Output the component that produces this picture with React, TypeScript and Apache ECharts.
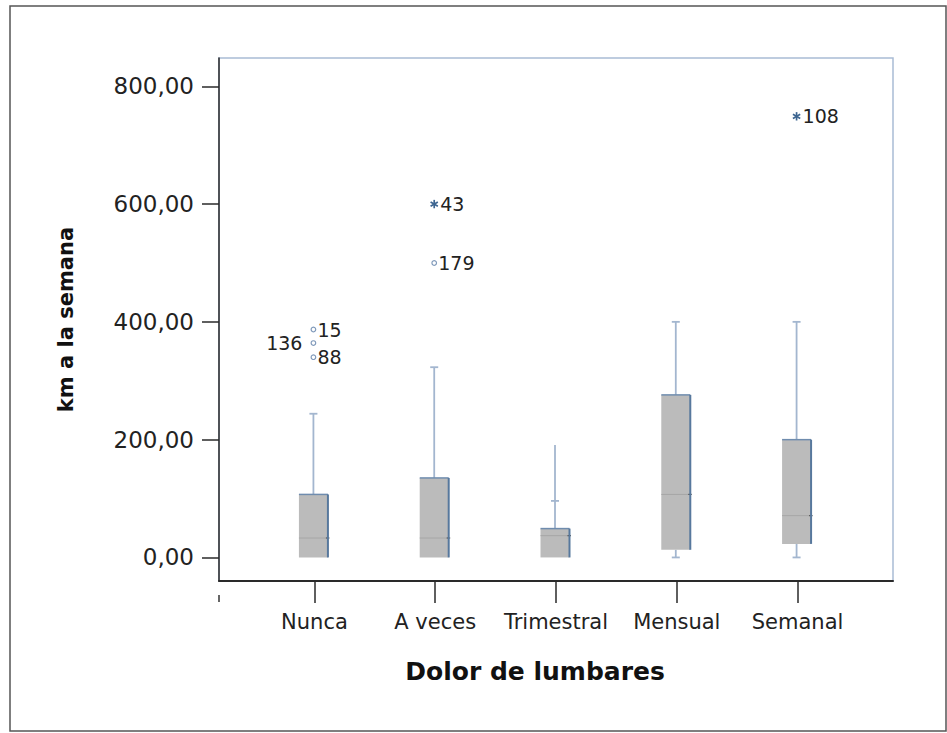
import React, { useEffect, useRef } from "react";
import * as echarts from "echarts";

const categories = ["Nunca", "A veces", "Trimestral", "Mensual", "Semanal"];
const whiskerLow = [0, 0, 0, 0, 0];
const q1 = [0, 0, 0, 13, 23];
const median = [33, 33, 37, 107, 71];
const q3 = [107, 135, 49, 276, 200];
const whiskerHigh = [244, 323, 191, 400, 400];
const whiskerCap = [244, 323, 96, 400, 400];

const yTicks = [0, 200, 400, 600, 800];

const mildCats = ["Nunca", "Nunca", "Nunca", "A veces"];
const mildValues = [387, 364, 340, 500];
const mildIds = ["15", "136", "88", "179"];
const mildSides = ["right", "left", "right", "right"];

const extremeCats = ["A veces", "Semanal"];
const extremeValues = [600, 749];
const extremeIds = ["43", "108"];

const FONT = "DejaVu Sans";

export default function App() {
  const ref = useRef<HTMLDivElement>(null);
  useEffect(() => {
    if (!ref.current) return;
    const chart = echarts.init(ref.current, undefined, { renderer: "svg" });

    const boxData = categories.map((c, i) => [
      i + 1,
      whiskerLow[i],
      q1[i],
      median[i],
      q3[i],
      whiskerHigh[i],
      whiskerCap[i],
    ]);

    const outlierData: any[] = [];
    mildCats.forEach((c, i) => {
      outlierData.push([categories.indexOf(c) + 1, mildValues[i], mildIds[i], 0, mildSides[i]]);
    });
    extremeCats.forEach((c, i) => {
      outlierData.push([categories.indexOf(c) + 1, extremeValues[i], extremeIds[i], 1, "right"]);
    });

    const fmt = (v: number) => v.toFixed(2).replace(".", ",");

    chart.setOption({
      animation: false,
      backgroundColor: "#ffffff",
      grid: {
        left: 219,
        top: 58,
        right: 54,
        bottom: 152,
        show: true,
        borderColor: "#a9bcd5",
        borderWidth: 1.5,
        backgroundColor: "transparent",
      },
      xAxis: {
        type: "value",
        min: 0.21,
        max: 5.79,
        splitLine: { show: false },
        axisLine: { show: true, onZero: false, lineStyle: { color: "#2a2a2a", width: 2 } },
        axisTick: {
          show: true,
          length: 22,
          customValues: [1, 2, 3, 4, 5],
          lineStyle: { color: "#2a2a2a", width: 1.5 },
        },
        axisLabel: {
          customValues: [1, 2, 3, 4, 5],
          formatter: (v: number) => categories[Math.round(v) - 1] ?? "",
          margin: 30,
          color: "#222",
          fontFamily: FONT,
          fontSize: 21,
        },
        name: "Dolor de lumbares",
        nameLocation: "middle",
        nameGap: 78,
        nameTextStyle: {
          fontFamily: FONT,
          fontWeight: "bold",
          fontSize: 25,
          color: "#111",
          padding: [0, 42, 0, 0],
        },
      },
      yAxis: {
        type: "value",
        min: -40,
        max: 848,
        splitLine: { show: false },
        axisLine: { show: true, onZero: false, lineStyle: { color: "#2a2a2a", width: 1.5 } },
        axisTick: {
          show: true,
          length: 17,
          customValues: yTicks,
          lineStyle: { color: "#2a2a2a", width: 1.5 },
        },
        axisLabel: {
          customValues: yTicks,
          formatter: (v: number) => fmt(v),
          margin: 25,
          color: "#222",
          fontFamily: FONT,
          fontSize: 23,
        },
        name: "km a la semana",
        nameLocation: "middle",
        nameGap: 143,
        nameTextStyle: { fontFamily: FONT, fontWeight: "bold", fontSize: 21, color: "#111" },
      },
      graphic: [
        {
          type: "rect",
          shape: { x: 10, y: 6, width: 936, height: 725 },
          style: { fill: "none", stroke: "#555", lineWidth: 1.5 },
          silent: true,
        },
        {
          type: "line",
          shape: { x1: 219, y1: 595, x2: 219, y2: 602 },
          style: { stroke: "#333", lineWidth: 1.5 },
          silent: true,
        },
      ],
      series: [
        {
          type: "custom",
          data: boxData,
          renderItem: (params: any, api: any) => {
            const x = api.value(0);
            const pLow = api.coord([x, api.value(1)]);
            const pQ1 = api.coord([x, api.value(2)]);
            const pMed = api.coord([x, api.value(3)]);
            const pQ3 = api.coord([x, api.value(4)]);
            const pHigh = api.coord([x, api.value(5)]);
            const pCap = api.coord([x, api.value(6)]);
            const cx = pQ1[0] - 1;
            const hw = 14.5;
            const whisk = { stroke: "#a3b6cf", lineWidth: 1.8 };
            const children: any[] = [];
            children.push({
              type: "line",
              shape: { x1: cx, y1: pQ3[1], x2: cx, y2: pHigh[1] },
              style: whisk,
            });
            children.push({
              type: "line",
              shape: { x1: cx - 4, y1: pCap[1], x2: cx + 4, y2: pCap[1] },
              style: whisk,
            });
            if (api.value(2) > api.value(1)) {
              children.push({
                type: "line",
                shape: { x1: cx, y1: pQ1[1], x2: cx, y2: pLow[1] },
                style: whisk,
              });
              children.push({
                type: "line",
                shape: { x1: cx - 4, y1: pLow[1], x2: cx + 4, y2: pLow[1] },
                style: whisk,
              });
            }
            children.push({
              type: "rect",
              shape: { x: cx - hw, y: pQ3[1], width: hw * 2, height: pQ1[1] - pQ3[1] },
              style: { fill: "#bbbbbb" },
            });
            children.push({
              type: "line",
              shape: { x1: cx - hw, y1: pMed[1], x2: cx + hw, y2: pMed[1] },
              style: { stroke: "#a6a6a6", lineWidth: 1 },
            });
            children.push({
              type: "line",
              shape: { x1: cx + hw - 2, y1: pMed[1], x2: cx + hw + 1.5, y2: pMed[1] },
              style: { stroke: "#555", lineWidth: 1.2 },
            });
            children.push({
              type: "line",
              shape: { x1: cx - hw, y1: pQ3[1], x2: cx + hw, y2: pQ3[1] },
              style: { stroke: "#6f8cae", lineWidth: 1.5 },
            });
            children.push({
              type: "line",
              shape: { x1: cx + hw, y1: pQ3[1], x2: cx + hw, y2: pQ1[1] },
              style: { stroke: "#57789d", lineWidth: 2 },
            });
            return { type: "group", children };
          },
        },
        {
          type: "custom",
          data: outlierData,
          renderItem: (params: any, api: any) => {
            const d = outlierData[params.dataIndex];
            const p = api.coord([d[0], d[1]]);
            p[0] -= 1;
            const children: any[] = [];
            if (d[3] === 0) {
              children.push({
                type: "circle",
                shape: { cx: p[0], cy: p[1], r: 2.3 },
                style: { fill: "#fff", stroke: "#7f99ba", lineWidth: 1.2 },
              });
            } else {
              const r = 4.2;
              [90, 30, 150].forEach((a) => {
                const rad = (a * Math.PI) / 180;
                const dx = Math.cos(rad) * r;
                const dy = Math.sin(rad) * r;
                children.push({
                  type: "line",
                  shape: { x1: p[0] - dx, y1: p[1] - dy, x2: p[0] + dx, y2: p[1] + dy },
                  style: { stroke: "#3d6591", lineWidth: 1.7 },
                });
              });
            }
            const right = d[4] === "right";
            children.push({
              type: "text",
              style: {
                text: d[2],
                x: right ? p[0] + (d[3] === 0 ? 4 : 6) : p[0] - 11,
                y: p[1],
                align: right ? "left" : "right",
                verticalAlign: "middle",
                fill: "#222",
                fontFamily: FONT,
                fontSize: 19,
              },
            });
            return { type: "group", children };
          },
        },
      ],
    });
    return () => chart.dispose();
  }, []);
  return (
    <div
      ref={ref}
      style={{ position: "fixed", left: 0, top: 0, width: 947, height: 733, background: "#fff" }}
    />
  );
}
